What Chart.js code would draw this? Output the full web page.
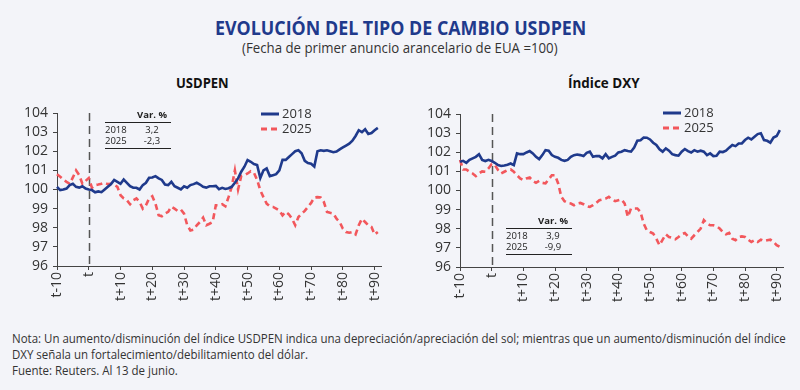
<!DOCTYPE html>
<html>
<head>
<meta charset="utf-8">
<script src="https://cdn.jsdelivr.net/npm/chart.js@4.4.1/dist/chart.umd.min.js"></script>
<style>
  html, body { margin: 0; padding: 0; background: #f3f4f9; }
  #page { position: relative; width: 800px; height: 390px; background: #f3f4f9; overflow: hidden; font-family: "Open Sans", sans-serif; }
  .fit { position: absolute; white-space: nowrap; line-height: 1; transform-origin: left top; }
  #title { color: #1f3a8c; font-weight: 700; font-size: 20px; }
  #subtitle { color: #333; font-size: 14px; }
  .panel { color: #111; font-weight: 700; font-size: 14px; }
  .nota { color: #333; font-size: 13px; }
  canvas { position: absolute; }
</style>
</head>
<body>
<div id="page">
  <div id="title" class="fit" style="left:215px; top:18px" data-w="371">EVOLUCIÓN DEL TIPO DE CAMBIO USDPEN</div>
  <div id="subtitle" class="fit" style="left:242px; top:41px" data-w="316">(Fecha de primer anuncio arancelario de EUA =100)</div>
  <div class="fit panel" style="left:176px; top:76px" data-w="53">USDPEN</div>
  <div class="fit panel" style="left:568px; top:76px" data-w="72">Índice DXY</div>

  <canvas id="left" width="400" height="210" style="left:0; top:95px"></canvas>
  <canvas id="right" width="400" height="210" style="left:400px; top:95px"></canvas>

  <div id="nota1" class="fit nota" style="left:12px; top:332px" data-w="774">Nota: Un aumento/disminución del índice USDPEN indica una depreciación/apreciación del sol; mientras que un aumento/disminución del índice</div>
  <div class="fit nota" style="left:12px; top:348px" data-same="nota1">DXY señala un fortalecimiento/debilitamiento del dólar.</div>
  <div class="fit nota" style="left:12px; top:364px" data-same="nota1">Fuente: Reuters. Al 13 de junio.</div>
</div>

<script>
// dias desde el primer anuncio (t-10 ... t+91), el eje llega a t+92
const firstDay = -10;
const lastDay = 92;
const dayLabels = [];
for (let d = firstDay; d <= lastDay; d++) {
  dayLabels.push(d === 0 ? 't' : (d < 0 ? 't' + d : 't+' + d));
}
const shownDays = [-10, 0, 10, 20, 30, 40, 50, 60, 70, 80, 90];

// USDPEN (t = 100)
const usdpen2018 = [
  100.14, 99.97, 100.0, 100.05, 100.23, 100.3, 100.14, 100.1, 100.17, 100.05, 100.0,
  99.97, 99.85, 99.9, 99.86, 100.0, 100.14, 100.28, 100.5, 100.4, 100.3,
  100.52, 100.35, 100.17, 100.09, 100.09, 100.0, 100.23, 100.35, 100.61, 100.63,
  100.7, 100.58, 100.5, 100.26, 100.23, 100.4, 100.17, 100.09, 100.0, 100.17,
  100.09, 100.23, 100.28, 100.35, 100.26, 100.14, 100.1, 100.17, 100.17, 100.19,
  100.02, 100.09, 100.03, 100.07, 100.14, 100.35, 100.58, 100.93, 101.19, 101.54,
  101.45, 101.33, 101.28, 100.6, 101.0, 101.1, 100.7, 100.75, 100.8, 101.0,
  101.55, 101.55, 101.7, 101.85, 102.0, 102.05, 101.9, 101.5, 101.38, 101.35,
  101.2, 102.0, 102.05, 102.02, 102.05, 102.0, 101.95, 101.98, 102.1, 102.2,
  102.3, 102.4, 102.55, 102.8, 103.1, 103.0, 103.15, 102.9, 102.95, 103.1, 103.22
];
const usdpen2025 = [
  100.8, 100.67, 100.52, 100.4, 100.3, 100.63, 101.0, 100.75, 100.3, 100.45, 100.6,
  100.09, 100.23, 100.26, 100.3, 100.35, 100.28, 100.3, 100.26, 100.14, 99.7,
  99.53, 99.44, 99.23, 99.44, 99.53, 99.35, 99.0, 99.18, 99.53, 99.65,
  99.26, 98.65, 98.6, 98.74, 98.83, 99.1, 99.0, 98.88, 98.95, 98.74,
  98.13, 97.86, 97.9, 98.13, 98.3, 98.53, 98.13, 98.21, 98.3, 99.18,
  99.18, 99.23, 99.12, 99.6, 100.14, 101.0, 100.0, 100.7, 100.75, 100.84,
  100.96, 100.88, 100.5, 99.96, 99.6, 99.26, 99.12, 99.09, 99.0, 98.9,
  98.65, 98.83, 98.7, 98.47, 98.13, 98.56, 98.74, 98.88, 99.09, 99.3,
  99.58, 99.6, 99.58, 99.35, 98.83, 98.78, 98.74, 98.47, 98.3, 97.95,
  97.78, 97.74, 97.78, 97.65, 98.13, 98.47, 98.3, 98.13, 98.04, 97.65, 97.78
];

// Indice DXY (t = 100)
const dxy2018 = [
  101.5, 101.55, 101.45, 101.6, 101.68, 101.76, 101.9, 101.6, 101.54, 101.6, 101.54,
  101.45, 101.33, 101.28, 101.31, 101.35, 101.41, 101.33, 101.94, 101.9, 101.9,
  101.99, 102.06, 101.94, 101.76, 101.64, 101.85, 102.11, 102.08, 101.85, 101.76,
  101.71, 101.6, 101.55, 101.6, 101.76, 101.85, 101.88, 101.85, 101.8, 101.97,
  102.03, 101.76, 101.8, 101.8, 101.68, 101.9, 101.68, 101.76, 101.82, 101.99,
  102.03, 102.11, 102.06, 102.03, 102.25, 102.6, 102.63, 102.77, 102.76, 102.67,
  102.5, 102.38, 102.15, 102.03, 102.2, 102.08, 101.9, 101.85, 101.82, 102.03,
  102.17, 102.06, 101.99, 102.11, 102.03, 102.08, 102.03, 101.85, 101.94, 101.8,
  101.82, 102.03, 102.01, 102.08, 102.24, 102.38, 102.32, 102.46, 102.46, 102.64,
  102.76, 102.67, 102.81, 102.95, 102.99, 102.64, 102.6, 102.5, 102.77, 102.85, 103.16
];
const dxy2025 = [
  101.6, 101.1, 101.1, 100.98, 100.89, 100.75, 100.89, 101.0, 100.98, 101.15, 101.38,
  101.33, 101.07, 100.89, 100.98, 101.07, 101.1, 100.98, 100.8, 100.63, 100.54,
  100.63, 100.68, 100.5, 100.4, 100.5, 100.4, 100.37, 100.58, 100.8, 100.8,
  100.37, 99.67, 99.44, 99.35, 99.32, 99.23, 99.32, 99.35, 99.28, 99.18,
  99.14, 99.23, 99.35, 99.49, 99.53, 99.58, 99.67, 99.53, 99.44, 99.49,
  99.53, 99.32, 98.62, 99.06, 99.06, 99.06, 98.88, 98.27, 97.92, 97.83,
  97.75, 97.48, 97.14, 97.43, 97.71, 97.57, 97.52, 97.45, 97.57, 97.71,
  97.78, 97.6, 97.48, 97.66, 97.83, 98.01, 98.45, 98.27, 98.18, 98.18,
  98.13, 98.01, 97.83, 97.71, 97.78, 97.48, 97.4, 97.57, 97.6, 97.57,
  97.43, 97.31, 97.4, 97.31, 97.43, 97.36, 97.4, 97.43, 97.31, 97.14, 97.05
];

// tabla de variacion %
const seriesNames = ['2018', '2025'];
const varUsdpen = ['3,2', '-2,3'];
const varDxy = ['3,9', '-9,9'];

const yMin = 96, yMax = 104, yStep = 1;

const blue = '#1f3a8c';
const red = '#f2575c';
const textColor = '#333';

// linea vertical en t, leyenda y tabla dibujadas sobre el canvas
const extras = {
  id: 'extras',
  beforeDatasetsDraw(chart) {
    const { ctx, chartArea: a, scales: { x } } = chart;
    const px = Math.round(x.getPixelForValue(dayLabels.indexOf('t'))) + 0.5;
    ctx.save();
    ctx.strokeStyle = '#555';
    ctx.lineWidth = 1.5;
    ctx.setLineDash([8, 5]);
    ctx.beginPath();
    ctx.moveTo(px, a.top);
    ctx.lineTo(px, a.bottom);
    ctx.stroke();
    ctx.restore();
  },
  afterDatasetsDraw(chart, args, o) {
    const { ctx, chartArea: a } = chart;
    const ds = chart.data.datasets;
    ctx.save();
    // leyenda
    const lx = a.left + o.legendX, ly = a.top + o.legendY;
    ds.forEach((d, i) => {
      const y = ly + i * 15;
      ctx.strokeStyle = d.borderColor;
      ctx.lineWidth = 3;
      ctx.setLineDash(d.borderDash || []);
      ctx.beginPath();
      ctx.moveTo(lx, y);
      ctx.lineTo(lx + 18, y);
      ctx.stroke();
      ctx.setLineDash([]);
      ctx.fillStyle = textColor;
      ctx.font = '13px "Open Sans"';
      ctx.textAlign = 'left';
      ctx.textBaseline = 'middle';
      ctx.fillText(d.label, lx + 21, y);
    });
    // tabla
    const tx = a.left + o.tableX, ty = a.top + o.tableY, tw = 66;
    ctx.strokeStyle = '#222';
    ctx.lineWidth = 1;
    ctx.beginPath();
    ctx.moveTo(tx, ty + 0.5); ctx.lineTo(tx + tw, ty + 0.5);
    ctx.moveTo(tx, ty + 26.5); ctx.lineTo(tx + tw, ty + 26.5);
    ctx.stroke();
    ctx.fillStyle = '#222';
    ctx.textBaseline = 'middle';
    ctx.textAlign = 'center';
    ctx.font = 'bold 9.5px "Open Sans"';
    ctx.fillText('Var. %', tx + 47, ty - 7);
    ctx.font = '9.5px "Open Sans"';
    o.values.forEach((v, i) => {
      const y = ty + 8.5 + i * 10.5;
      ctx.textAlign = 'left';
      ctx.fillText(seriesNames[i], tx, y);
      ctx.textAlign = 'center';
      ctx.fillText(v, tx + 47, y);
    });
    ctx.restore();
  }
};

function makeChart(id, s2018, s2025, o) {
  return new Chart(document.getElementById(id), {
    type: 'line',
    data: {
      labels: dayLabels,
      datasets: [
        { label: seriesNames[0], data: s2018, borderColor: blue, borderWidth: 2.6, pointRadius: 0, tension: 0 },
        { label: seriesNames[1], data: s2025, borderColor: red, borderWidth: 2.6, borderDash: [6, 4], pointRadius: 0, tension: 0 }
      ]
    },
    options: {
      responsive: false,
      animation: false,
      devicePixelRatio: 1,
      layout: { padding: { left: 0, top: o.padTop, right: o.padRight, bottom: 0 } },
      scales: {
        x: {
          type: 'category',
          offset: false,
          afterBuildTicks: s => {
            s.ticks = s.ticks.filter(t => shownDays.includes(t.value + firstDay));
          },
          afterFit: s => { s.height = o.xHeight; },
          grid: { drawOnChartArea: false, drawTicks: true, tickLength: 4, color: '#444' },
          border: { color: '#444', width: 1 },
          ticks: {
            autoSkip: false, maxRotation: 90, minRotation: 90, padding: 2,
            color: textColor, font: { family: 'Open Sans', size: 14 }
          }
        },
        y: {
          min: yMin, max: yMax,
          afterFit: s => { s.width = o.yWidth; },
          grid: { drawOnChartArea: false, drawTicks: true, tickLength: 4, color: '#444' },
          border: { color: '#444', width: 1 },
          ticks: { stepSize: yStep, autoSkip: false, padding: 5, color: textColor, font: { family: 'Open Sans', size: 14 } }
        }
      },
      plugins: {
        legend: { display: false },
        tooltip: { enabled: false },
        extras: o
      }
    },
    plugins: [extras]
  });
}

makeChart('left', usdpen2018, usdpen2025, {
  padTop: 18, padRight: 19, xHeight: 39, yWidth: 57,
  legendX: 204, legendY: 1, tableX: 48, tableY: 9, values: varUsdpen
});
makeChart('right', dxy2018, dxy2025, {
  padTop: 19, padRight: 17, xHeight: 38, yWidth: 60,
  legendX: 203, legendY: -1, tableX: 46, tableY: 114, values: varDxy
});

// ajustar el ancho de los textos al de la imagen
const scales = {};
document.querySelectorAll('.fit[data-w]').forEach(el => {
  const k = +el.dataset.w / el.offsetWidth;
  scales[el.id] = k;
  el.style.transform = 'scaleX(' + k + ')';
});
document.querySelectorAll('.fit[data-same]').forEach(el => {
  el.style.transform = 'scaleX(' + scales[el.dataset.same] + ')';
});
</script>
</body>
</html>
